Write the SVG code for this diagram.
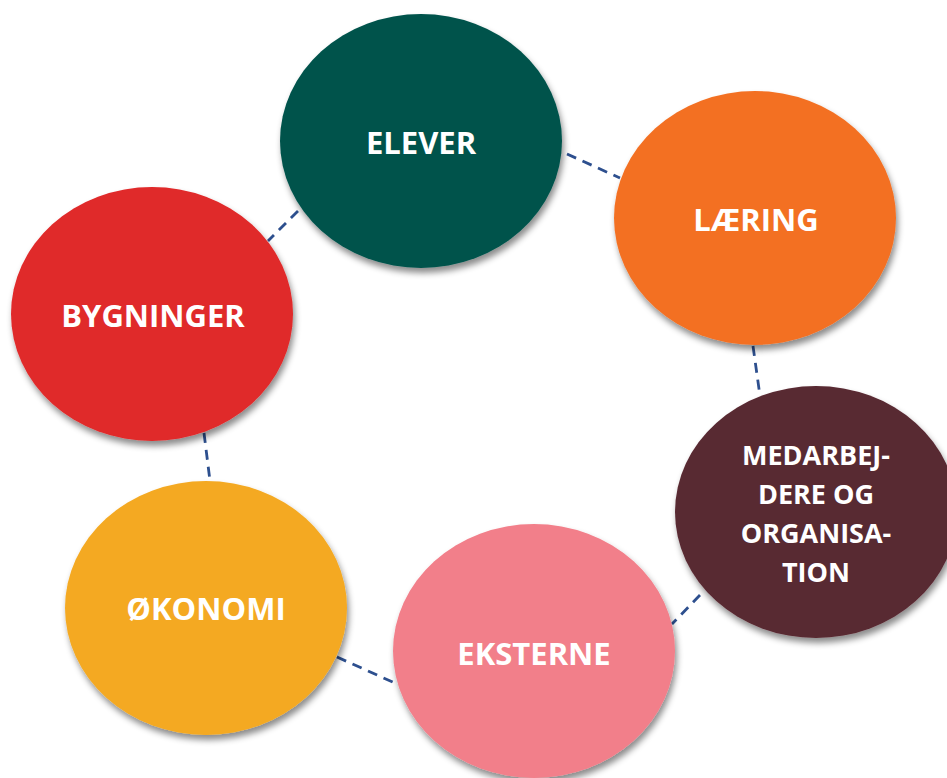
<svg xmlns="http://www.w3.org/2000/svg" width="947" height="778" viewBox="0 0 947 778">
<defs>
<filter id="sh" x="-10%" y="-10%" width="125%" height="130%">
<feDropShadow dx="2" dy="5" stdDeviation="3" flood-color="#000" flood-opacity="0.45"/>
</filter>
<style>
.n{filter:url(#sh);}
.t{fill:#fff;font-family:"Open Sans","Noto Sans","Liberation Sans",sans-serif;font-weight:bold;text-anchor:middle;}
.big{font-size:31px;}
.sm{font-size:27px;}
.c{stroke:#2D4F8E;stroke-width:2.8;stroke-dasharray:10 7;fill:none;}
</style>
</defs>
<rect width="947" height="778" fill="#fff"/>
<g id="connectors">
<line class="c" x1="567" y1="154" x2="620" y2="178"/>
<line class="c" x1="753" y1="346" x2="760" y2="396"/>
<line class="c" x1="700" y1="595" x2="672" y2="624"/>
<line class="c" x1="337" y1="657" x2="397" y2="684"/>
<line class="c" x1="204" y1="433" x2="210" y2="481"/>
<line class="c" x1="298" y1="211" x2="268" y2="241"/>
</g>
<g id="elever">
<ellipse class="n" cx="421" cy="141" rx="141" ry="127" fill="#03534C"/>
<text class="t big" x="421" y="154">ELEVER</text>
</g>
<g id="laering">
<ellipse class="n" cx="755" cy="218" rx="141" ry="127" fill="#F37023"/>
<text class="t big" x="756" y="231">LÆRING</text>
</g>
<g id="bygninger">
<ellipse class="n" cx="152" cy="314" rx="141" ry="127" fill="#E0292A"/>
<text class="t big" x="153" y="327">BYGNINGER</text>
</g>
<g id="medarbejdere">
<ellipse class="n" cx="816" cy="512" rx="141" ry="126" fill="#592932"/>
<text class="t sm" x="816" y="465">MEDARBEJ-</text>
<text class="t sm" x="816" y="504">DERE OG</text>
<text class="t sm" x="816" y="543">ORGANISA-</text>
<text class="t sm" x="816" y="582">TION</text>
</g>
<g id="okonomi">
<ellipse class="n" cx="206" cy="608" rx="141" ry="127" fill="#F4A922"/>
<text class="t big" x="206" y="620">ØKONOMI</text>
</g>
<g id="eksterne">
<ellipse class="n" cx="534" cy="651" rx="141" ry="127" fill="#F27F8A"/>
<text class="t big" x="534" y="665">EKSTERNE</text>
</g>
</svg>
